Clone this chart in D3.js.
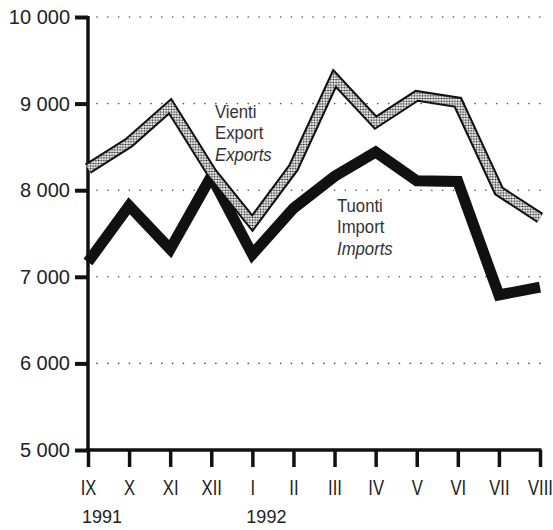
<!DOCTYPE html>
<html>
<head>
<meta charset="utf-8">
<script src="https://cdn.jsdelivr.net/npm/d3@7"></script>
<style>
  html, body { margin: 0; padding: 0; background: #fff; }
  svg { display: block; }
</style>
</head>
<body>
<svg id="chart" width="553" height="530"></svg>
<script>
// ---- data ----
const months = ["IX","X","XI","XII","I","II","III","IV","V","VI","VII","VIII"];
const exportsData = [8250, 8550, 8970, 8210, 7620, 8260, 9290, 8780, 9090, 9015, 7990, 7680];
const importsData = [7170, 7820, 7320, 8160, 7260, 7790, 8160, 8440, 8110, 8100, 6790, 6880];
const yTicks = [5000, 6000, 7000, 8000, 9000, 10000];
const yTickLabels = ["5 000", "6 000", "7 000", "8 000", "9 000", "10 000"];
const gridValues = [6000, 7000, 8000, 9000, 10000];
const years = [{ label: "1991", month: "IX" }, { label: "1992", month: "I" }];
const exportLabels = ["Vienti", "Export", "Exports"];
const importLabels = ["Tuonti", "Import", "Imports"];

// ---- layout ----
const svg = d3.select("#chart");
const x = d3.scalePoint().domain(months).range([88, 540]);
const y = d3.scaleLinear().domain([5000, 10000]).range([450, 17]);

const regular = "'Liberation Sans', Arial, Helvetica, sans-serif";

// dotted pattern for exports band
const defs = svg.append("defs");
const pat = defs.append("pattern")
  .attr("id", "dots").attr("patternUnits", "userSpaceOnUse")
  .attr("width", 2.7).attr("height", 2.7);
pat.append("rect").attr("width", 2.7).attr("height", 2.7).attr("fill", "#fff");
pat.append("circle").attr("cx", 1.35).attr("cy", 1.35).attr("r", 1.0).attr("fill", "#222");

// gridlines
svg.append("g").selectAll("line").data(gridValues).join("line")
  .attr("x1", 97).attr("x2", 540)
  .attr("y1", d => y(d)).attr("y2", d => y(d))
  .attr("stroke", "#555").attr("stroke-width", 1.6)
  .attr("stroke-linecap", "round")
  .attr("stroke-dasharray", "0.1 10.7");

// y axis
const yAxis = d3.axisLeft(y).tickValues(yTicks)
  .tickFormat((d, i) => yTickLabels[i]).tickSize(13).tickPadding(5);
const gy = svg.append("g").attr("transform", "translate(88,0)").call(yAxis);
gy.select(".domain").remove();
gy.selectAll(".tick line").attr("stroke", "#111").attr("stroke-width", 4);
gy.selectAll(".tick text").attr("font-family", regular).attr("font-size", 20)
  .attr("fill", "#222");

// x axis
const xAxis = d3.axisBottom(x).tickSize(17).tickPadding(12);
const gx = svg.append("g").attr("transform", "translate(0,450)").call(xAxis);
gx.select(".domain").remove();
gx.selectAll(".tick line").attr("stroke", "#111").attr("stroke-width", 3.5);
gx.selectAll(".tick text").attr("font-family", regular).attr("font-size", 22.5)
  .attr("fill", "#222").attr("transform", "scale(0.74,1)");

// axis lines
svg.append("line").attr("x1", 88).attr("x2", 88).attr("y1", y(10000) - 1).attr("y2", 450)
  .attr("stroke", "#111").attr("stroke-width", 3.5);
svg.append("line").attr("x1", 86).attr("x2", 541.5).attr("y1", 450).attr("y2", 450)
  .attr("stroke", "#111").attr("stroke-width", 3.5);

// year labels
svg.append("g").selectAll("text").data(years).join("text")
  .attr("x", d => x(d.month) - 6).attr("y", 523)
  .attr("font-family", regular).attr("font-size", 18).attr("fill", "#222")
  .text(d => d.label);

// lines
const line = d3.line().x((d, i) => x(months[i])).y(d => y(d));

svg.append("path").datum(importsData).attr("d", line)
  .attr("fill", "none").attr("stroke", "#111").attr("stroke-width", 11)
  .attr("stroke-linejoin", "miter").attr("stroke-miterlimit", 2.5);

svg.append("path").datum(exportsData).attr("d", line)
  .attr("fill", "none").attr("stroke", "#111").attr("stroke-width", 11.5)
  .attr("stroke-linejoin", "miter").attr("stroke-miterlimit", 2.5);
svg.append("path").datum(exportsData).attr("d", line)
  .attr("fill", "none").attr("stroke", "url(#dots)").attr("stroke-width", 7.4)
  .attr("stroke-linejoin", "miter").attr("stroke-miterlimit", 2.5);

// series labels (horizontally condensed)
function labelBlock(lines, x0, y0) {
  svg.append("g").attr("transform", `translate(${x0},${y0}) scale(0.88,1)`)
    .selectAll("text").data(lines).join("text")
    .attr("x", 0).attr("y", (d, i) => i * 21.5)
    .attr("font-family", regular).attr("font-size", 19).attr("fill", "#333")
    .attr("font-style", (d, i) => i === 2 ? "italic" : "normal")
    .text(d => d);
}
labelBlock(exportLabels, 215, 118);
labelBlock(importLabels, 337, 212);
</script>
</body>
</html>
